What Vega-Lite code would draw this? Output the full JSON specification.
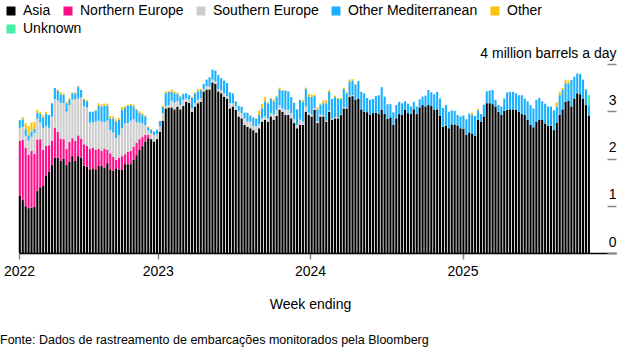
{
"$schema": "https://vega.github.io/schema/vega-lite/v6.json",
"width": 597, "height": 189,
"autosize": {"type": "none"},
"padding": {"left": 19, "top": 64, "right": 19, "bottom": 99},
"background": "white",
"config": {"font": "Liberation Sans", "view": {"stroke": null}},
"title": {"text": "Fonte: Dados de rastreamento de embarcações monitorados pela Bloomberg", "orient": "bottom", "anchor": "start", "frame": "group", "dx": -19, "offset": 23, "fontSize": 12.5, "fontWeight": "normal", "color": "#000"},
"data": {"values": [
{"t":"2022-02-04","a":1.21,"b":1.16,"c":0.28,"d":0.16},
{"t":"2022-02-11","a":1.12,"b":1.28,"c":0.27,"d":0.16,"e":0.05},
{"t":"2022-02-18","a":0.99,"b":1.24,"c":0.25,"d":0.14,"e":0.13},
{"t":"2022-02-25","a":0.95,"b":1.13,"c":0.30,"d":0.11,"e":0.2},
{"t":"2022-03-04","a":0.96,"b":1.2,"c":0.3,"d":0.11,"e":0.19},
{"t":"2022-03-11","a":0.98,"b":1.12,"c":0.44,"d":0.09,"e":0.15},
{"t":"2022-03-18","a":1.31,"b":1.09,"c":0.44,"d":0.13,"e":0.06},
{"t":"2022-03-25","a":1.39,"b":1.02,"c":0.35,"d":0.18,"e":0.04},
{"t":"2022-04-01","a":1.42,"b":0.76,"c":0.46,"d":0.23,"e":0.04},
{"t":"2022-04-08","a":1.63,"b":0.64,"c":0.42,"d":0.26,"e":0.04},
{"t":"2022-04-15","a":1.72,"b":0.56,"c":0.37,"d":0.27},
{"t":"2022-04-22","a":1.86,"b":0.51,"c":0.52,"d":0.28},
{"t":"2022-04-29","a":2.02,"b":0.63,"c":0.61,"d":0.23},
{"t":"2022-05-06","a":2.02,"b":0.54,"c":0.67,"d":0.2,"e":0.03},
{"t":"2022-05-13","a":1.95,"b":0.47,"c":0.76,"d":0.18,"e":0.05},
{"t":"2022-05-20","a":1.99,"b":0.42,"c":0.76,"d":0.18,"e":0.03},
{"t":"2022-05-27","a":1.86,"b":0.34,"c":0.79,"d":0.18,"e":0.03},
{"t":"2022-06-03","a":1.93,"b":0.42,"c":0.78,"d":0.11,"e":0.04},
{"t":"2022-06-10","a":2.05,"b":0.38,"c":0.82,"d":0.13,"e":0.02},
{"t":"2022-06-17","a":1.95,"b":0.42,"c":0.88,"d":0.13,"e":0.02},
{"t":"2022-06-24","a":2.05,"b":0.44,"c":0.78,"d":0.25,"e":0.02},
{"t":"2022-07-01","a":2.02,"b":0.4,"c":0.87,"d":0.16},
{"t":"2022-07-08","a":1.85,"b":0.45,"c":0.81,"d":0.13,"e":0.03},
{"t":"2022-07-15","a":1.83,"b":0.44,"c":0.81,"d":0.13,"e":0.03},
{"t":"2022-07-22","a":1.77,"b":0.43,"c":0.56,"d":0.23},
{"t":"2022-07-29","a":1.79,"b":0.44,"c":0.53,"d":0.23},
{"t":"2022-08-05","a":1.77,"b":0.41,"c":0.6,"d":0.23,"e":0.02},
{"t":"2022-08-12","a":1.84,"b":0.37,"c":0.59,"d":0.31,"e":0.06},
{"t":"2022-08-19","a":1.84,"b":0.32,"c":0.62,"d":0.32,"e":0.04},
{"t":"2022-08-26","a":1.81,"b":0.4,"c":0.56,"d":0.35,"e":0.04},
{"t":"2022-09-02","a":1.9,"b":0.28,"c":0.62,"d":0.32,"e":0.04},
{"t":"2022-09-09","a":1.77,"b":0.34,"c":0.49,"d":0.25,"e":0.05},
{"t":"2022-09-16","a":1.74,"b":0.3,"c":0.51,"d":0.3,"e":0.04},
{"t":"2022-09-23","a":1.79,"b":0.18,"c":0.46,"d":0.35,"e":0.05},
{"t":"2022-09-30","a":1.76,"b":0.25,"c":0.49,"d":0.32,"e":0.04},
{"t":"2022-10-07","a":1.77,"b":0.28,"c":0.59,"d":0.39,"e":0.06},
{"t":"2022-10-14","a":1.88,"b":0.21,"c":0.65,"d":0.34,"e":0.03},
{"t":"2022-10-21","a":1.88,"b":0.26,"c":0.61,"d":0.37,"e":0.02},
{"t":"2022-10-28","a":1.88,"b":0.28,"c":0.64,"d":0.33,"e":0.02},
{"t":"2022-11-04","a":1.97,"b":0.28,"c":0.58,"d":0.27,"e":0.04},
{"t":"2022-11-11","a":2.07,"b":0.26,"c":0.44,"d":0.26,"e":0.02},
{"t":"2022-11-18","a":2.18,"b":0.23,"c":0.35,"d":0.2,"e":0.04},
{"t":"2022-11-25","a":2.26,"b":0.2,"c":0.28,"d":0.18,"e":0.04},
{"t":"2022-12-02","a":2.36,"b":0.14,"c":0.21,"d":0.18,"e":0.02},
{"t":"2022-12-09","a":2.43,"b":0.07,"c":0.09,"d":0.07,"e":0.02},
{"t":"2022-12-16","a":2.41,"c":0.13,"d":0.07,"e":0.02},
{"t":"2022-12-23","a":2.36,"c":0.14,"d":0.07},
{"t":"2022-12-30","a":2.41,"c":0.11,"d":0.09},
{"t":"2023-01-06","a":2.57,"c":0.11,"d":0.11},
{"t":"2023-01-13","a":2.8,"c":0.16,"d":0.13,"e":0.03},
{"t":"2023-01-20","a":3.06,"c":0.05,"d":0.27,"e":0.04},
{"t":"2023-01-27","a":3.08,"c":0.05,"d":0.28,"e":0.02},
{"t":"2023-02-03","a":3.08,"c":0.14,"d":0.19,"e":0.05},
{"t":"2023-02-10","a":3.04,"c":0.14,"d":0.2,"e":0.04},
{"t":"2023-02-17","a":3.1,"c":0.11,"d":0.16,"e":0.03},
{"t":"2023-02-24","a":3.04,"c":0.09,"d":0.18,"e":0.02},
{"t":"2023-03-03","a":3.11,"c":0.13,"d":0.13},
{"t":"2023-03-10","a":3.2,"c":0.07,"d":0.11},
{"t":"2023-03-17","a":3.18,"c":0.07,"d":0.09},
{"t":"2023-03-24","a":2.99,"c":0.07,"d":0.23,"e":0.02},
{"t":"2023-03-31","a":3.1,"c":0.07,"d":0.21,"e":0.02},
{"t":"2023-04-07","a":3.17,"c":0.07,"d":0.18,"e":0.05},
{"t":"2023-04-14","a":3.2,"c":0.07,"d":0.18,"e":0.02},
{"t":"2023-04-21","a":3.42,"c":0.05,"d":0.11},
{"t":"2023-04-28","a":3.46,"c":0.07,"d":0.14},
{"t":"2023-05-05","a":3.46,"c":0.06,"d":0.2},
{"t":"2023-05-12","a":3.61,"c":0.06,"d":0.21},
{"t":"2023-05-19","a":3.58,"c":0.05,"d":0.23},
{"t":"2023-05-26","a":3.42,"c":0.05,"d":0.3},
{"t":"2023-06-02","a":3.38,"c":0.06,"d":0.26},
{"t":"2023-06-09","a":3.31,"c":0.07,"d":0.27},
{"t":"2023-06-16","a":3.27,"c":0.05,"d":0.28},
{"t":"2023-06-23","a":3.06,"c":0.11,"d":0.23},
{"t":"2023-06-30","a":3.1,"c":0.07,"d":0.21},
{"t":"2023-07-07","a":3.03,"c":0.07,"d":0.11},
{"t":"2023-07-14","a":2.89,"c":0.11,"d":0.11},
{"t":"2023-07-21","a":2.85,"c":0.11,"d":0.14},
{"t":"2023-07-28","a":2.71,"c":0.14,"d":0.12},
{"t":"2023-08-04","a":2.67,"c":0.11,"d":0.19},
{"t":"2023-08-11","a":2.64,"c":0.14,"d":0.12,"e":0.02},
{"t":"2023-08-18","a":2.6,"c":0.09,"d":0.18},
{"t":"2023-08-25","a":2.55,"c":0.13,"d":0.16,"e":0.02},
{"t":"2023-09-01","a":2.64,"c":0.09,"d":0.19,"e":0.09},
{"t":"2023-09-08","a":2.78,"c":0.07,"d":0.21,"e":0.09},
{"t":"2023-09-15","a":2.82,"c":0.07,"d":0.32,"e":0.09},
{"t":"2023-09-22","a":2.78,"c":0.07,"d":0.32,"e":0.02},
{"t":"2023-09-29","a":2.89,"c":0.07,"d":0.3,"e":0.02},
{"t":"2023-10-06","a":2.82,"c":0.11,"d":0.28,"e":0.04},
{"t":"2023-10-13","a":2.9,"c":0.13,"d":0.28,"e":0.02},
{"t":"2023-10-20","a":3.03,"c":0.09,"d":0.34,"e":0.04},
{"t":"2023-10-27","a":2.99,"c":0.07,"d":0.37,"e":0.02},
{"t":"2023-11-03","a":2.92,"c":0.11,"d":0.41},
{"t":"2023-11-10","a":2.92,"c":0.11,"d":0.39},
{"t":"2023-11-17","a":2.85,"c":0.11,"d":0.34},
{"t":"2023-11-24","a":2.75,"c":0.09,"d":0.34},
{"t":"2023-12-01","a":2.64,"c":0.07,"d":0.33},
{"t":"2023-12-08","a":2.71,"c":0.11,"d":0.42},
{"t":"2023-12-15","a":2.71,"c":0.07,"d":0.42,"e":0.04},
{"t":"2023-12-22","a":2.99,"c":0.11,"d":0.37,"e":0.03},
{"t":"2023-12-29","a":2.92,"c":0.05,"d":0.34,"e":0.06},
{"t":"2024-01-05","a":2.89,"c":0.04,"d":0.37,"e":0.05},
{"t":"2024-01-12","a":3.03,"c":0.04,"d":0.26,"e":0.02},
{"t":"2024-01-19","a":2.75,"c":0.04,"d":0.25,"e":0.04},
{"t":"2024-01-26","a":2.89,"c":0.04,"d":0.21,"e":0.02},
{"t":"2024-02-02","a":2.89,"c":0.02,"d":0.26,"e":0.06},
{"t":"2024-02-09","a":2.78,"c":0.02,"d":0.37,"e":0.06},
{"t":"2024-02-16","a":2.99,"c":0.02,"d":0.4,"e":0.04},
{"t":"2024-02-23","a":2.82,"c":0.02,"d":0.42},
{"t":"2024-03-01","a":2.85,"c":0.02,"d":0.43,"e":0.03},
{"t":"2024-03-08","a":2.85,"c":0.02,"d":0.39,"e":0.02},
{"t":"2024-03-15","a":2.92,"c":0.02,"d":0.32,"e":0.02},
{"t":"2024-03-22","a":3.06,"c":0.02,"d":0.39,"e":0.03},
{"t":"2024-03-29","a":3.06,"c":0.02,"d":0.3,"e":0.03},
{"t":"2024-04-05","a":3.31,"c":0.02,"d":0.3,"e":0.04},
{"t":"2024-04-12","a":3.32,"c":0.02,"d":0.31,"e":0.03},
{"t":"2024-04-19","a":3.24,"d":0.32,"e":0.02},
{"t":"2024-04-26","a":3.27,"d":0.37},
{"t":"2024-05-03","a":3.04,"d":0.37},
{"t":"2024-05-10","a":2.99,"d":0.39},
{"t":"2024-05-17","a":2.98,"d":0.3},
{"t":"2024-05-24","a":2.92,"d":0.32},
{"t":"2024-05-31","a":2.96,"d":0.3},
{"t":"2024-06-07","a":2.97,"d":0.35},
{"t":"2024-06-14","a":2.94,"d":0.4},
{"t":"2024-06-21","a":3.03,"d":0.48},
{"t":"2024-06-28","a":2.94,"d":0.37},
{"t":"2024-07-05","a":2.84,"d":0.31},
{"t":"2024-07-12","a":2.87,"d":0.28},
{"t":"2024-07-19","a":2.71,"d":0.27},
{"t":"2024-07-26","a":2.85,"d":0.28},
{"t":"2024-08-02","a":2.94,"d":0.26},
{"t":"2024-08-09","a":2.92,"d":0.25},
{"t":"2024-08-16","a":3.03,"d":0.18},
{"t":"2024-08-23","a":2.96,"d":0.2},
{"t":"2024-08-30","a":2.94,"d":0.16},
{"t":"2024-09-06","a":3.04,"d":0.16},
{"t":"2024-09-13","a":2.94,"d":0.16},
{"t":"2024-09-20","a":3.08,"d":0.17},
{"t":"2024-09-27","a":3.13,"d":0.18},
{"t":"2024-10-04","a":3.1,"d":0.23},
{"t":"2024-10-11","a":3.13,"d":0.32},
{"t":"2024-10-18","a":3.11,"d":0.29},
{"t":"2024-10-25","a":3.03,"d":0.33},
{"t":"2024-11-01","a":3.04,"d":0.37},
{"t":"2024-11-08","a":2.9,"d":0.37},
{"t":"2024-11-15","a":2.67,"d":0.4},
{"t":"2024-11-22","a":2.69,"d":0.44},
{"t":"2024-11-29","a":2.64,"d":0.35},
{"t":"2024-12-06","a":2.72,"d":0.3},
{"t":"2024-12-13","a":2.72,"d":0.29},
{"t":"2024-12-20","a":2.7,"d":0.22},
{"t":"2024-12-27","a":2.64,"d":0.25},
{"t":"2025-01-03","a":2.63,"d":0.28},
{"t":"2025-01-10","a":2.5,"d":0.33},
{"t":"2025-01-17","a":2.55,"d":0.4},
{"t":"2025-01-24","a":2.53,"d":0.39,"e":0.05},
{"t":"2025-01-31","a":2.48,"d":0.42},
{"t":"2025-02-07","a":2.82,"d":0.2,"e":0.03},
{"t":"2025-02-14","a":2.78,"d":0.16},
{"t":"2025-02-21","a":2.89,"d":0.25},
{"t":"2025-02-28","a":3.17,"d":0.25},
{"t":"2025-03-07","a":3.17,"d":0.27},
{"t":"2025-03-14","a":3.15,"d":0.3},
{"t":"2025-03-21","a":3.1,"d":0.14},
{"t":"2025-03-28","a":2.99,"d":0.14},
{"t":"2025-04-04","a":2.92,"d":0.18},
{"t":"2025-04-11","a":3.01,"d":0.26},
{"t":"2025-04-18","a":3.03,"d":0.37},
{"t":"2025-04-25","a":3.04,"d":0.37},
{"t":"2025-05-02","a":3.04,"d":0.37},
{"t":"2025-05-09","a":3.03,"d":0.35},
{"t":"2025-05-16","a":2.99,"d":0.35},
{"t":"2025-05-23","a":2.94,"d":0.4},
{"t":"2025-05-30","a":2.92,"d":0.35},
{"t":"2025-06-06","a":2.82,"d":0.39},
{"t":"2025-06-13","a":2.71,"d":0.42},
{"t":"2025-06-20","a":2.66,"d":0.4},
{"t":"2025-06-27","a":2.78,"d":0.46},
{"t":"2025-07-04","a":2.82,"d":0.46},
{"t":"2025-07-11","a":2.82,"d":0.39},
{"t":"2025-07-18","a":2.74,"d":0.42},
{"t":"2025-07-25","a":2.69,"d":0.41},
{"t":"2025-08-01","a":2.69,"d":0.41},
{"t":"2025-08-08","a":2.6,"d":0.42},
{"t":"2025-08-15","a":2.76,"d":0.34,"e":0.09},
{"t":"2025-08-22","a":2.92,"d":0.42,"e":0.07},
{"t":"2025-08-29","a":3.04,"d":0.41,"e":0.04},
{"t":"2025-09-05","a":3.2,"d":0.39,"e":0.07},
{"t":"2025-09-12","a":3.22,"d":0.37,"e":0.06},
{"t":"2025-09-19","a":3.1,"d":0.56},
{"t":"2025-09-26","a":3.27,"d":0.46},
{"t":"2025-10-03","a":3.38,"d":0.42},
{"t":"2025-10-10","a":3.36,"d":0.43},
{"t":"2025-10-17","a":3.27,"d":0.4},
{"t":"2025-10-24","a":3.13,"d":0.32,"f":0.02},
{"t":"2025-10-31","a":2.9,"d":0.23,"f":0.21}
]},
"transform": [
  {"fold": ["a","b","c","d","e","f"], "as": ["k","v"]},
  {"filter": "isValid(datum.v) && datum.v > 0"}
],
"layer": [
{
"mark": {"type": "bar", "width": 2.1},
"encoding": {
  "x": {"field": "t", "type": "temporal",
    "scale": {"type": "utc", "nice": false, "padding": 0, "domain": [{"year":2022,"month":2,"date":2,"utc":true},{"year":2026,"month":1,"date":4,"utc":true}]},
    "axis": {"values": [{"year":2022,"month":2,"date":2,"utc":true},{"year":2023,"month":1,"date":1,"utc":true},{"year":2024,"month":1,"date":1,"utc":true},{"year":2025,"month":1,"date":1,"utc":true}],
      "labelExpr": "utcFormat(datum.value, '%Y')",
      "title": "Week ending", "titleFontSize": 14, "titleFontWeight": "normal", "titleColor": "#000",
      "titleX": 291, "titleY": 51, "titleBaseline": "middle", "titleAlign": "center",
      "tickSize": 6, "tickColor": "#888", "tickWidth": 1.5,
      "domainColor": "#000", "domainWidth": 1.5,
      "labelFontSize": 14, "labelColor": "#000", "labelPadding": 5,
      "labelFlush": false, "labelOverlap": false, "grid": false}
  },
  "y": {"field": "v", "type": "quantitative", "stack": "zero",
    "scale": {"domain": [0, 4], "nice": false},
    "axis": {"orient": "right", "values": [0,1,2,3,4], "domain": false, "grid": false,
      "tickSize": -9, "tickColor": "#888", "tickWidth": 1.5,
      "labelAlign": "right", "labelBaseline": "alphabetic", "labelPadding": 9, "labelOffset": -7,
      "labelFontSize": 14, "labelColor": "#000", "title": null,
      "labelExpr": "datum.value == 4 ? '4 million barrels a day' : datum.label"}
  },
  "color": {"field": "k", "type": "nominal",
    "scale": {"domain": ["a","b","c","d","e","f"], "range": ["#000000","#ff0d8b","#cccccc","#1ab0ff","#ffc20a","#44f0a4"]},
    "legend": {"values": ["a","b","c","d","e"], "orient": "none", "legendX": -15, "legendY": -60, "direction": "horizontal",
      "title": null, "symbolType": "square", "symbolSize": 81, "symbolStrokeWidth": 0, "symbolOpacity": 1,
      "labelFontSize": 14, "labelColor": "#000", "labelOffset": 5, "columnPadding": 10,
      "labelExpr": "datum.label == 'a' ? 'Asia' : datum.label == 'b' ? 'Northern Europe' : datum.label == 'c' ? 'Southern Europe' : datum.label == 'd' ? 'Other Mediterranean' : datum.label == 'e' ? 'Other' : 'Unknown'"}
  },
  "order": {"field": "k", "sort": "ascending"}
}
},
{
"transform": [
  {"stack": "v", "groupby": ["t"], "sort": [{"field": "k", "order": "ascending"}], "as": ["v0", "v1"]},
  {"filter": "datum.k == 'f'"}
],
"mark": {"type": "bar", "width": 2.1},
"encoding": {
  "x": {"field": "t", "type": "temporal"},
  "y": {"field": "v0", "type": "quantitative"},
  "y2": {"field": "v1"},
  "fill": {"field": "k", "type": "nominal",
    "scale": {"domain": ["f"], "range": ["#44f0a4"]},
    "legend": {"orient": "none", "legendX": -15, "legendY": -42, "direction": "horizontal",
      "title": null, "symbolType": "square", "symbolSize": 81, "symbolStrokeWidth": 0, "symbolOpacity": 1,
      "labelFontSize": 14, "labelColor": "#000", "labelOffset": 5,
      "labelExpr": "'Unknown'"}
  }
}
}
]
}
